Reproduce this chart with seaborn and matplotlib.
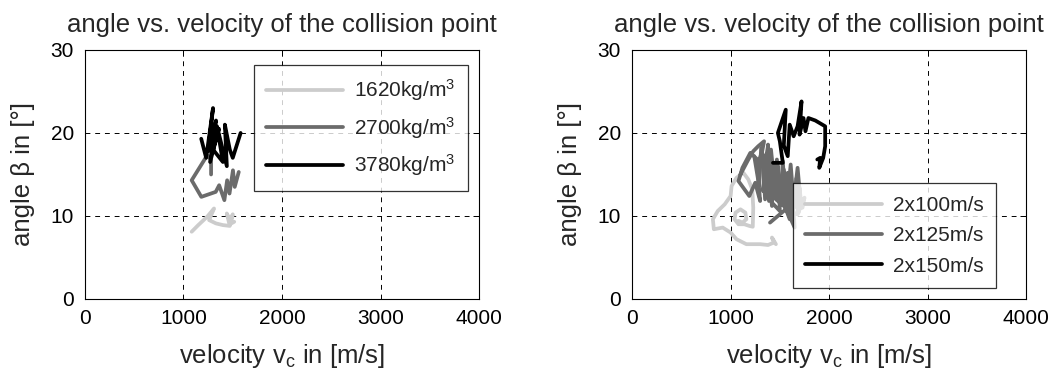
import pandas as pd
import matplotlib
matplotlib.use("Agg")
import matplotlib.pyplot as plt
import seaborn as sns

# ---- data ----
# left panel: different densities
dens_labels = ["1620kg/m$^3$", "2700kg/m$^3$", "3780kg/m$^3$"]
d1620_v = [1083, 1150, 1240, 1310, 1260, 1330, 1400, 1470, 1440, 1480, 1500, 1470, 1515]
d1620_a = [8.1, 8.9, 9.9, 10.9, 9.5, 9.1, 8.9, 8.8, 10.3, 9.2, 10.2, 9.0, 9.3]
d2700_v = [1280, 1280, 1240, 1083, 1181, 1327, 1362, 1415, 1443, 1467, 1502, 1520, 1561]
d2700_a = [15.0, 16.8, 17.3, 14.3, 12.3, 12.9, 13.7, 11.9, 14.3, 12.7, 15.5, 13.5, 15.3]
d3780_v = [1180, 1230, 1300, 1250, 1330, 1270, 1360, 1300, 1400, 1340, 1440, 1420, 1470, 1500, 1580]
d3780_a = [19.3, 17.0, 23.0, 17.8, 21.5, 16.5, 20.5, 18.0, 16.5, 20.8, 16.0, 21.0, 18.0, 17.0, 20.0]

# right panel: different impact velocities
vel_labels = ["2x100m/s", "2x125m/s", "2x150m/s"]
v100_v = [1460, 1420, 1440, 1380, 1300, 1160, 1060, 1000, 920, 830, 820, 870, 940, 1000, 1010,
          1060, 1130, 1180, 1220, 1230, 1225, 1190, 1140, 1080, 1040, 1050, 1100, 1150, 1160, 1120, 1080]
v100_a = [6.6, 7.4, 6.8, 6.5, 6.6, 6.6, 7.2, 8.0, 8.6, 8.4, 9.6, 10.6, 11.4, 12.4, 13.6,
          14.6, 15.2, 14.4, 13.2, 11.0, 8.7, 8.8, 9.0, 9.0, 9.6, 10.4, 10.8, 10.4, 9.6, 9.2, 9.4]
v125_v = [1100, 1180, 1230, 1280, 1340, 1300, 1200, 1120, 1080, 1190, 1250, 1300, 1270, 1320,
          1350, 1380, 1330, 1360, 1420, 1400, 1380, 1460, 1440, 1420, 1500, 1480, 1460, 1560,
          1530, 1510, 1600, 1580, 1560, 1650, 1620, 1600, 1690, 1670, 1650, 1720, 1700, 1680,
          1750, 1730, 1600, 1400]
v125_a = [15.0, 16.8, 17.8, 18.4, 19.0, 16.5, 17.6, 15.8, 14.2, 12.4, 14.0, 11.8, 16.0, 17.8,
          12.0, 18.6, 13.0, 17.4, 11.2, 17.0, 12.8, 12.2, 16.4, 11.6, 10.6, 16.0, 12.0, 11.0,
          16.6, 12.4, 9.6, 15.2, 11.0, 8.6, 14.0, 10.0, 10.4, 14.6, 11.4, 11.0, 13.4, 10.2,
          12.2, 11.0, 11.2, 9.2]
v125_extra_v = [1240, 1290, 1310, 1350, 1390, 1410, 1450, 1470, 1520, 1540, 1580, 1610, 1640, 1680, 1710]
v125_extra_a = [17.2, 13.6, 18.2, 14.8, 11.8, 18.0, 13.4, 16.8, 11.8, 15.6, 12.6, 16.2, 11.6, 15.8, 11.8]
v150_v = [1430, 1530, 1500, 1480, 1560, 1540, 1580, 1600, 1640, 1680, 1720, 1700, 1740, 1760, 1790,
          1860, 1960, 1960, 1940, 1900, 1910, 1880]
v150_a = [16.4, 16.4, 19.0, 20.0, 22.8, 18.5, 17.2, 21.0, 19.6, 20.8, 23.8, 19.8, 21.8, 20.2, 21.8,
          21.5, 20.8, 18.4, 17.0, 15.8, 17.0, 16.8]

grays = ["#cccccc", "#6b6b6b", "#000000"]
ticks_x = [0, 1000, 2000, 3000, 4000]
ticks_y = [0, 10, 20, 30]

sns.set_theme(style="white")
plt.rcParams["font.family"] = ["Liberation Sans", "DejaVu Sans"]
plt.rcParams["mathtext.fontset"] = "custom"
plt.rcParams["mathtext.rm"] = "Liberation Sans"
plt.rcParams["mathtext.it"] = "Liberation Sans"

fig = plt.figure(figsize=(10.57, 3.70), dpi=100)
ax1 = fig.add_axes([0.0804, 0.192, 0.3728, 0.673])
ax2 = fig.add_axes([0.598, 0.192, 0.3728, 0.673])

panels = [
    (ax1, [(d1620_v, d1620_a), (d2700_v, d2700_a), (d3780_v, d3780_a)], dens_labels,
     dict(loc="upper right", bbox_to_anchor=(0.971, 0.94))),
    (ax2, [(v100_v, v100_a), (v125_v, v125_a), (v150_v, v150_a)], vel_labels,
     dict(loc="lower right", bbox_to_anchor=(0.923, 0.043))),
]

for ax, series, labels, legkw in panels:
    for (xs, ys), lab, col in zip(series, labels, grays):
        df = pd.DataFrame({"v": xs, "a": ys})
        sns.lineplot(data=df, x="v", y="a", sort=False, estimator=None,
                     color=col, lw=2.7, label=lab, ax=ax)
        if ax is ax2 and lab == "2x125m/s":
            # second part of the 2x125 trace (same colour, no extra legend entry)
            sns.lineplot(x=v125_extra_v, y=v125_extra_a, sort=False, estimator=None,
                         color=col, lw=2.7, ax=ax, legend=False)
    ax.set_xlim(0, 4000)
    ax.set_ylim(0, 30)
    ax.set_xticks(ticks_x)
    ax.set_yticks(ticks_y)
    ax.grid(True, color="black", linestyle=(0, (5, 5)), lw=0.7)
    for s in ax.spines.values():
        s.set_color("black")
        s.set_linewidth(0.8)
    ax.tick_params(direction="in", length=4, width=0.7, top=True, right=True,
                   labelsize=15, colors="black")
    ax.tick_params(axis="x", pad=7)
    ax.tick_params(axis="y", pad=8)
    ax.set_title("angle vs. velocity of the collision point", fontsize=18.5, pad=13)
    ax.set_xlabel(r"velocity v$_{\mathrm{c}}$ in [m/s]", fontsize=18.5, labelpad=10)
    ax.set_ylabel("angle β in [°]", fontsize=18.5, labelpad=11)
    leg = ax.legend(fontsize=15, frameon=True, fancybox=False, handlelength=3.7,
                    handletextpad=0.5, borderpad=0.6, labelspacing=0.55,
                    borderaxespad=0, **legkw)
    leg.get_frame().set_edgecolor("black")
    leg.get_frame().set_linewidth(0.9)

fig.savefig("out.png", dpi=100)
